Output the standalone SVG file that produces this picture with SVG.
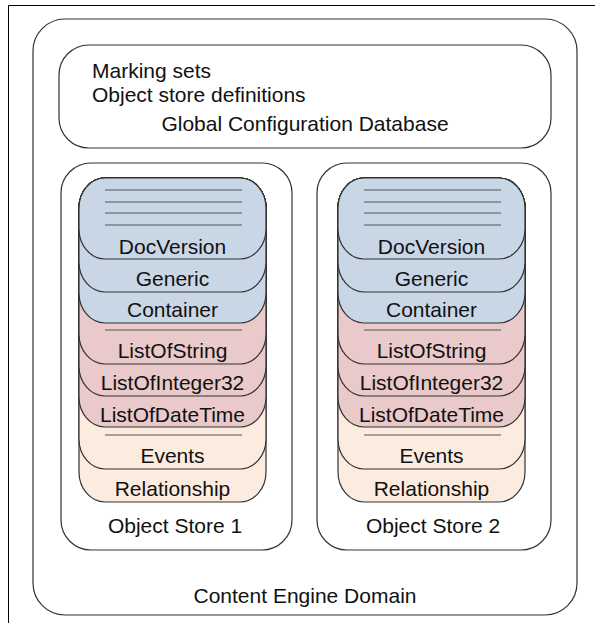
<svg xmlns="http://www.w3.org/2000/svg" width="595" height="623" viewBox="0 0 595 623">
<style>
text{font-family:"Liberation Sans",Arial,sans-serif;font-size:21px;fill:#111}
.c{text-anchor:middle}
.box{fill:#fff;stroke:#333;stroke-width:1.2}
.lay{stroke:#333;stroke-width:1.2}
.blue{fill:#c9d6e6}
.pink{fill:#e9c9c9}
.peach{fill:#fcebdf}
.sep{stroke:#555;stroke-width:1.2}
</style>
<rect width="595" height="623" fill="#fff"/>
<g id="frame">
<path d="M8.5,623 V5.5 H595" fill="none" stroke="#000" stroke-width="1"/>
</g>
<g id="domain">
<rect class="box" x="33" y="19" width="544" height="596" rx="32" ry="32"/>
<text class="c" x="305" y="603">Content Engine Domain</text>
</g>
<g id="gcd">
<rect class="box" x="59" y="45" width="492" height="103" rx="30" ry="30"/>
<text x="92" y="78">Marking sets</text>
<text x="92" y="102">Object store definitions</text>
<text class="c" x="305" y="131">Global Configuration Database</text>
</g>
<g id="os1">
<rect class="box" x="61" y="163" width="231" height="387" rx="30" ry="30"/>
<text class="c" x="175" y="533">Object Store 1</text>
</g>
<g id="os2">
<rect class="box" x="317" y="163" width="234" height="387" rx="30" ry="30"/>
<text class="c" x="433" y="533">Object Store 2</text>
</g>
<g id="stack1">
<rect class="lay peach" x="79" y="178" width="187" height="324" rx="26" ry="30"/>
<rect class="lay peach" x="79" y="178" width="187" height="291" rx="26" ry="30"/>
<rect class="lay pink" x="79" y="178" width="187" height="249" rx="26" ry="30"/>
<rect class="lay pink" x="79" y="178" width="187" height="218" rx="26" ry="30"/>
<rect class="lay pink" x="79" y="178" width="187" height="186" rx="26" ry="30"/>
<rect class="lay blue" x="79" y="178" width="187" height="145" rx="26" ry="30"/>
<rect class="lay blue" x="79" y="178" width="187" height="114" rx="26" ry="30"/>
<rect class="lay blue" x="79" y="178" width="187" height="81" rx="26" ry="30"/>
<path class="sep" d="M105,190H242M105,202H242M105,213H242M105,225H242M105,330H242M105,435H242"/>
<text class="c" x="172.5" y="254">DocVersion</text>
<text class="c" x="172.5" y="286">Generic</text>
<text class="c" x="172.5" y="317">Container</text>
<text class="c" x="172.5" y="358">ListOfString</text>
<text class="c" x="172.5" y="390">ListOfInteger32</text>
<text class="c" x="172.5" y="422">ListOfDateTime</text>
<text class="c" x="172.5" y="463">Events</text>
<text class="c" x="172.5" y="496">Relationship</text>
</g>
<g id="stack2">
<rect class="lay peach" x="338" y="178" width="187" height="324" rx="26" ry="30"/>
<rect class="lay peach" x="338" y="178" width="187" height="291" rx="26" ry="30"/>
<rect class="lay pink" x="338" y="178" width="187" height="249" rx="26" ry="30"/>
<rect class="lay pink" x="338" y="178" width="187" height="218" rx="26" ry="30"/>
<rect class="lay pink" x="338" y="178" width="187" height="186" rx="26" ry="30"/>
<rect class="lay blue" x="338" y="178" width="187" height="145" rx="26" ry="30"/>
<rect class="lay blue" x="338" y="178" width="187" height="114" rx="26" ry="30"/>
<rect class="lay blue" x="338" y="178" width="187" height="81" rx="26" ry="30"/>
<path class="sep" d="M364,190H501M364,202H501M364,213H501M364,225H501M364,330H501M364,435H501"/>
<text class="c" x="431.5" y="254">DocVersion</text>
<text class="c" x="431.5" y="286">Generic</text>
<text class="c" x="431.5" y="317">Container</text>
<text class="c" x="431.5" y="358">ListOfString</text>
<text class="c" x="431.5" y="390">ListOfInteger32</text>
<text class="c" x="431.5" y="422">ListOfDateTime</text>
<text class="c" x="431.5" y="463">Events</text>
<text class="c" x="431.5" y="496">Relationship</text>
</g>
</svg>
